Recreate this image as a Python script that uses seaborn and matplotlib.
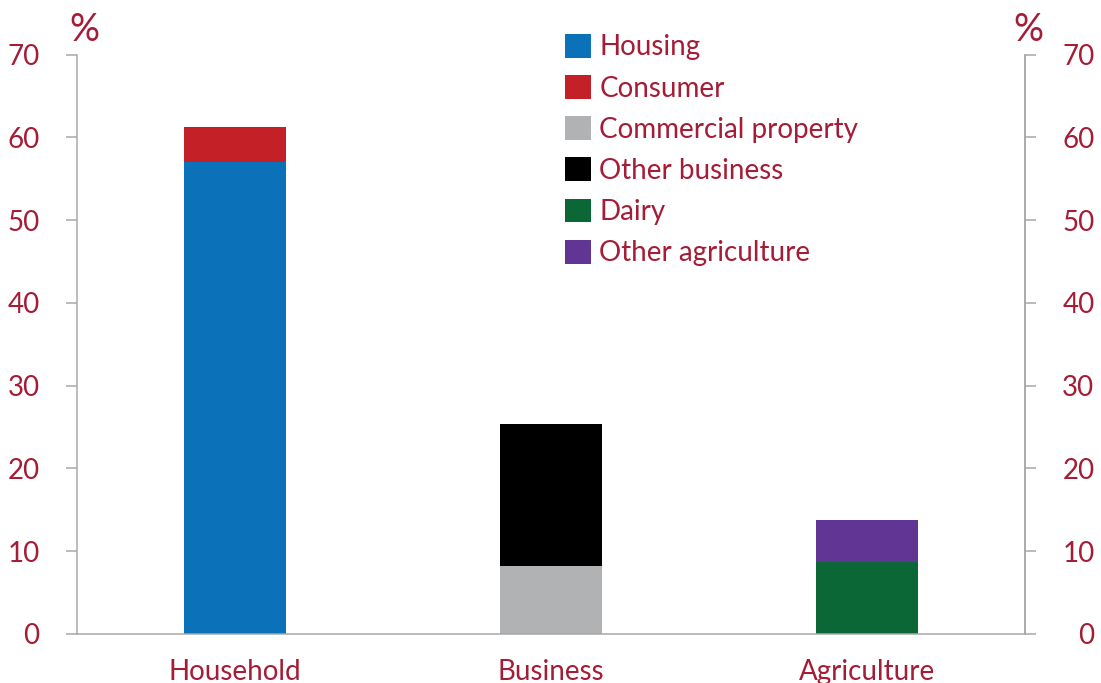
import matplotlib
matplotlib.use("Agg")
import matplotlib.pyplot as plt
from matplotlib.patches import Patch
import pandas as pd
import seaborn as sns

# Données (en %)
groups = ["Household", "Business", "Agriculture"]
lower_series = ["Housing", "Commercial property", "Dairy"]
lower_values = [57.0, 8.2, 8.7]
upper_series = ["Consumer", "Other business", "Other agriculture"]
upper_values = [4.3, 17.2, 5.1]
legend_order = ["Housing", "Consumer", "Commercial property",
                "Other business", "Dairy", "Other agriculture"]
y_ticks = [0, 10, 20, 30, 40, 50, 60, 70]

colours = {
    "Housing": "#0B72B9",
    "Consumer": "#C32127",
    "Commercial property": "#B1B2B4",
    "Other business": "#000000",
    "Dairy": "#0B6836",
    "Other agriculture": "#613593",
}
RED = "#A51C36"
GREY = "#A8A8A8"
FS = 20

sns.set_style("white")
plt.rcParams["font.family"] = ["Lato", "DejaVu Sans"]

lower = pd.DataFrame({"group": groups, "series": lower_series, "value": lower_values})
# on trace d'abord le total (couleur du segment du haut), puis le segment du bas par-dessus
totals = [lo + up for lo, up in zip(lower_values, upper_values)]
upper = pd.DataFrame({"group": groups, "series": upper_series, "value": totals})

fig = plt.figure(figsize=(11.01, 6.83), dpi=100)
ax = fig.add_axes([77 / 1101, 49 / 683, 948 / 1101, 579.3 / 683])

for df in (upper, lower):
    sns.barplot(data=df, x="group", y="value", hue="series", order=groups,
                palette=colours, dodge=False, width=0.32, saturation=1,
                errorbar=None, linewidth=0, legend=False, ax=ax)

ax.set_xlim(-0.5, 2.5)
ax.set_ylim(0, 70)
ax.set_xlabel("")
ax.set_ylabel("")

# axe des x : libellés au centre, séparateurs entre catégories
ax.set_xticks(range(len(groups)))
ax.set_xticklabels(groups)
ax.set_xticks([-0.5, 0.5, 1.5, 2.5], minor=True)
ax.tick_params(axis="x", which="major", length=0, pad=18,
               labelsize=FS, labelcolor=RED)
ax.tick_params(axis="x", which="minor", length=8, width=1.1,
               color=GREY, direction="out")

ax.set_yticks(y_ticks)
ax.tick_params(axis="y", length=8, width=1.1, color=GREY, direction="out",
               pad=19, labelsize=FS, labelcolor=RED)

for side in ["left", "bottom", "right"]:
    ax.spines[side].set_color(GREY)
    ax.spines[side].set_linewidth(1.1)
ax.spines["top"].set_visible(False)

# axe de droite
ax2 = ax.twinx()
ax2.set_ylim(0, 70)
ax2.set_yticks(y_ticks)
ax2.tick_params(axis="y", length=8, width=1.1, color=GREY, direction="out",
                pad=42, labelsize=FS, labelcolor=RED)
for lbl in ax2.get_yticklabels():
    lbl.set_ha("right")
for side in ["left", "bottom", "top"]:
    ax2.spines[side].set_visible(False)
ax2.spines["right"].set_color(GREY)
ax2.spines["right"].set_linewidth(1.1)

fig.text(84 / 1101, 1 - 30 / 683, "%", ha="center", va="center",
         color=RED, fontsize=27)
fig.text(1028 / 1101, 1 - 30 / 683, "%", ha="center", va="center",
         color=RED, fontsize=27)

handles = [Patch(facecolor=colours[s], edgecolor="none") for s in legend_order]
ax.legend(handles, legend_order, loc="upper left",
          bbox_to_anchor=(565 / 1101, 1 - 34 / 683), bbox_transform=fig.transFigure,
          frameon=False, fontsize=FS, labelcolor=RED,
          handlelength=0.94, handleheight=0.94, handletextpad=0.3,
          labelspacing=0.53, borderpad=0, borderaxespad=0)

fig.savefig("out.png", dpi=100)
